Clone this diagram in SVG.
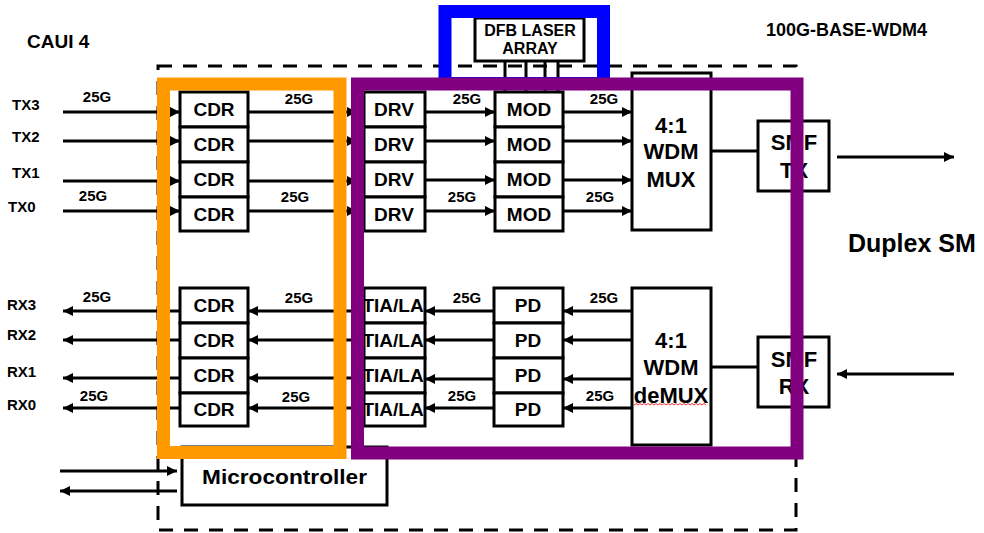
<svg xmlns="http://www.w3.org/2000/svg" width="984" height="533" viewBox="0 0 984 533">
<defs>
<marker id="ah" markerWidth="10" markerHeight="10" refX="10" refY="5" orient="auto" markerUnits="userSpaceOnUse"><path d="M0,0 L10,5 L0,10 z" fill="#000"/></marker>
<style>
.b{fill:#fff;stroke:#000;stroke-width:3}
.t{font-family:"Liberation Sans",Arial,sans-serif;font-weight:bold;fill:#000}
.m{font-size:19px;text-anchor:middle}
.l{font-size:15px}
.g{font-size:15px;text-anchor:middle}
.big{font-size:22px;text-anchor:middle}
.c line{stroke:#000;stroke-width:3}
.a{marker-end:url(#ah)}
</style>
</defs>
<rect width="984" height="533" fill="#fff"/>
<rect x="158" y="66" width="638" height="464" fill="none" stroke="#000" stroke-width="3" stroke-dasharray="14 11"/>
<g class="t">
<text class="l" x="27" y="48" style="font-size:19px">CAUI 4</text>
<text class="l" x="766" y="36" style="font-size:18px">100G-BASE-WDM4</text>
<text class="l" x="848" y="252" style="font-size:25px">Duplex SM</text>
<text class="l" x="12" y="110">TX3</text>
<text class="l" x="12" y="142">TX2</text>
<text class="l" x="12" y="178">TX1</text>
<text class="l" x="8" y="212">TX0</text>
<text class="l" x="7" y="310">RX3</text>
<text class="l" x="7" y="340">RX2</text>
<text class="l" x="7" y="377">RX1</text>
<text class="l" x="7" y="410">RX0</text>
<text class="g" x="97" y="102">25G</text>
<text class="g" x="93" y="201">25G</text>
<text class="g" x="299" y="104">25G</text>
<text class="g" x="295" y="202">25G</text>
<text class="g" x="467" y="104">25G</text>
<text class="g" x="462" y="202">25G</text>
<text class="g" x="604" y="104">25G</text>
<text class="g" x="600" y="202">25G</text>
<text class="g" x="97" y="302">25G</text>
<text class="g" x="94" y="401">25G</text>
<text class="g" x="299" y="303">25G</text>
<text class="g" x="296" y="402">25G</text>
<text class="g" x="467" y="303">25G</text>
<text class="g" x="462" y="401">25G</text>
<text class="g" x="604" y="303">25G</text>
<text class="g" x="600" y="401">25G</text>
</g>
<g id="connectors" class="c">
<line class="a" x1="63" y1="112" x2="180" y2="112"/>
<line class="a" x1="63" y1="141" x2="180" y2="141"/>
<line class="a" x1="63" y1="181" x2="180" y2="181"/>
<line class="a" x1="63" y1="211" x2="180" y2="211"/>
<line class="a" x1="248" y1="112" x2="357" y2="112"/>
<line class="a" x1="248" y1="141" x2="357" y2="141"/>
<line class="a" x1="248" y1="181" x2="357" y2="181"/>
<line class="a" x1="248" y1="211" x2="357" y2="211"/>
<line class="a" x1="425" y1="112" x2="495" y2="112"/>
<line class="a" x1="425" y1="141" x2="495" y2="141"/>
<line class="a" x1="425" y1="180" x2="495" y2="180"/>
<line class="a" x1="425" y1="211" x2="495" y2="211"/>
<line class="a" x1="563" y1="112" x2="632" y2="112"/>
<line class="a" x1="563" y1="141" x2="632" y2="141"/>
<line class="a" x1="563" y1="180" x2="632" y2="180"/>
<line class="a" x1="563" y1="211" x2="632" y2="211"/>
<line x1="711" y1="151" x2="758" y2="151"/>
<line class="a" x1="837" y1="157" x2="954" y2="157"/>
<line x1="505" y1="61" x2="505" y2="92"/>
<line x1="526" y1="61" x2="526" y2="92"/>
<line x1="545" y1="61" x2="545" y2="92"/>
<line x1="558" y1="61" x2="558" y2="92"/>
<line class="a" x1="180" y1="311" x2="63" y2="311"/>
<line class="a" x1="180" y1="340" x2="63" y2="340"/>
<line class="a" x1="180" y1="378" x2="63" y2="378"/>
<line class="a" x1="180" y1="408" x2="63" y2="408"/>
<line class="a" x1="364" y1="311" x2="248" y2="311"/>
<line class="a" x1="364" y1="340" x2="248" y2="340"/>
<line class="a" x1="364" y1="378" x2="248" y2="378"/>
<line class="a" x1="364" y1="408" x2="248" y2="408"/>
<line class="a" x1="494" y1="311" x2="425" y2="311"/>
<line class="a" x1="494" y1="340" x2="425" y2="340"/>
<line class="a" x1="494" y1="379" x2="425" y2="379"/>
<line class="a" x1="494" y1="408" x2="425" y2="408"/>
<line class="a" x1="632" y1="311" x2="563" y2="311"/>
<line class="a" x1="632" y1="340" x2="563" y2="340"/>
<line class="a" x1="632" y1="379" x2="563" y2="379"/>
<line class="a" x1="632" y1="408" x2="563" y2="408"/>
<line x1="711" y1="367" x2="758" y2="367"/>
<line class="a" x1="954" y1="374" x2="837" y2="374"/>
<line class="a" x1="60" y1="471" x2="177" y2="471"/>
<line class="a" x1="177" y1="491" x2="60" y2="491"/>
</g>
<g id="dfb"><rect class="b" x="475" y="18" width="109" height="43"/><text class="t" x="530" y="36" style="font-size:16px;text-anchor:middle">DFB LASER</text><text class="t" x="530" y="54" style="font-size:16px;text-anchor:middle">ARRAY</text></g>
<g id="cdr-tx3"><rect class="b" x="180" y="92" width="68" height="35"/><text class="t m" x="214" y="116">CDR</text></g>
<g id="cdr-tx2"><rect class="b" x="180" y="127" width="68" height="35"/><text class="t m" x="214" y="151">CDR</text></g>
<g id="cdr-tx1"><rect class="b" x="180" y="162" width="68" height="35"/><text class="t m" x="214" y="186">CDR</text></g>
<g id="cdr-tx0"><rect class="b" x="180" y="197" width="68" height="34"/><text class="t m" x="214" y="221">CDR</text></g>
<g id="drv3"><rect class="b" x="364" y="92" width="61" height="35"/><text class="t m" x="394" y="116">DRV</text></g>
<g id="drv2"><rect class="b" x="364" y="127" width="61" height="35"/><text class="t m" x="394" y="151">DRV</text></g>
<g id="drv1"><rect class="b" x="364" y="162" width="61" height="35"/><text class="t m" x="394" y="186">DRV</text></g>
<g id="drv0"><rect class="b" x="364" y="197" width="61" height="34"/><text class="t m" x="394" y="221">DRV</text></g>
<g id="mod3"><rect class="b" x="495" y="92" width="68" height="35"/><text class="t m" x="529" y="116">MOD</text></g>
<g id="mod2"><rect class="b" x="495" y="127" width="68" height="35"/><text class="t m" x="529" y="151">MOD</text></g>
<g id="mod1"><rect class="b" x="495" y="162" width="68" height="35"/><text class="t m" x="529" y="186">MOD</text></g>
<g id="mod0"><rect class="b" x="495" y="197" width="68" height="34"/><text class="t m" x="529" y="221">MOD</text></g>
<g id="mux"><rect class="b" x="632" y="73" width="79" height="157"/><text class="t big" x="671" y="133">4:1</text><text class="t big" x="671" y="159">WDM</text><text class="t big" x="671" y="187">MUX</text></g>
<g id="smf-tx"><rect class="b" x="758" y="121" width="71" height="70"/><text class="t big" x="794" y="150">SMF</text><text class="t big" x="794" y="178">TX</text></g>
<g id="cdr-rx3"><rect class="b" x="180" y="288" width="68" height="35"/><text class="t m" x="214" y="312">CDR</text></g>
<g id="cdr-rx2"><rect class="b" x="180" y="323" width="68" height="35"/><text class="t m" x="214" y="347">CDR</text></g>
<g id="cdr-rx1"><rect class="b" x="180" y="358" width="68" height="35"/><text class="t m" x="214" y="382">CDR</text></g>
<g id="cdr-rx0"><rect class="b" x="180" y="393" width="68" height="33"/><text class="t m" x="214" y="416">CDR</text></g>
<g id="tia3"><rect class="b" x="364" y="288" width="61" height="35"/><text class="t m" x="393" y="312">TIA/LA</text></g>
<g id="tia2"><rect class="b" x="364" y="323" width="61" height="35"/><text class="t m" x="393" y="347">TIA/LA</text></g>
<g id="tia1"><rect class="b" x="364" y="358" width="61" height="35"/><text class="t m" x="393" y="382">TIA/LA</text></g>
<g id="tia0"><rect class="b" x="364" y="393" width="61" height="33"/><text class="t m" x="393" y="416">TIA/LA</text></g>
<g id="pd3"><rect class="b" x="494" y="288" width="69" height="35"/><text class="t m" x="528" y="312">PD</text></g>
<g id="pd2"><rect class="b" x="494" y="323" width="69" height="35"/><text class="t m" x="528" y="347">PD</text></g>
<g id="pd1"><rect class="b" x="494" y="358" width="69" height="35"/><text class="t m" x="528" y="382">PD</text></g>
<g id="pd0"><rect class="b" x="494" y="393" width="69" height="33"/><text class="t m" x="528" y="416">PD</text></g>
<g id="demux"><rect class="b" x="632" y="288" width="79" height="157"/><text class="t big" x="671" y="348">4:1</text><text class="t big" x="671" y="375">WDM</text><text class="t big" x="671" y="403">deMUX</text><path d="M634,405 l2,-1.5 l2,1.5 l2,-1.5 l2,1.5 l2,-1.5 l2,1.5 l2,-1.5 l2,1.5 l2,-1.5 l2,1.5 l2,-1.5 l2,1.5 l2,-1.5 l2,1.5 l2,-1.5 l2,1.5 l2,-1.5 l2,1.5 l2,-1.5 l2,1.5 l2,-1.5 l2,1.5 l2,-1.5 l2,1.5 l2,-1.5 l2,1.5 l2,-1.5 l2,1.5 l2,-1.5 l2,1.5 l2,-1.5 l2,1.5 l2,-1.5 l2,1.5 l2,-1.5 l2,1.5" fill="none" stroke="#f33" stroke-width="1"/></g>
<g id="smf-rx"><rect class="b" x="758" y="337" width="71" height="70"/><text class="t big" x="794" y="367">SMF</text><text class="t big" x="794" y="394">RX</text></g>
<g id="microcontroller"><rect class="b" x="182" y="447" width="205" height="58"/><text class="t" x="202" y="484" style="font-size:20px" textLength="165" lengthAdjust="spacingAndGlyphs">Microcontroller</text></g>
<g id="frames" fill="none">
<rect x="163.5" y="84" width="176.5" height="368.5" stroke="#ff9900" stroke-width="13"/>
<rect x="445" y="11.5" width="158.5" height="72" stroke="#0000ff" stroke-width="13"/>
<rect x="357.5" y="84" width="439.5" height="369" stroke="#800080" stroke-width="13"/>
</g>
</svg>
